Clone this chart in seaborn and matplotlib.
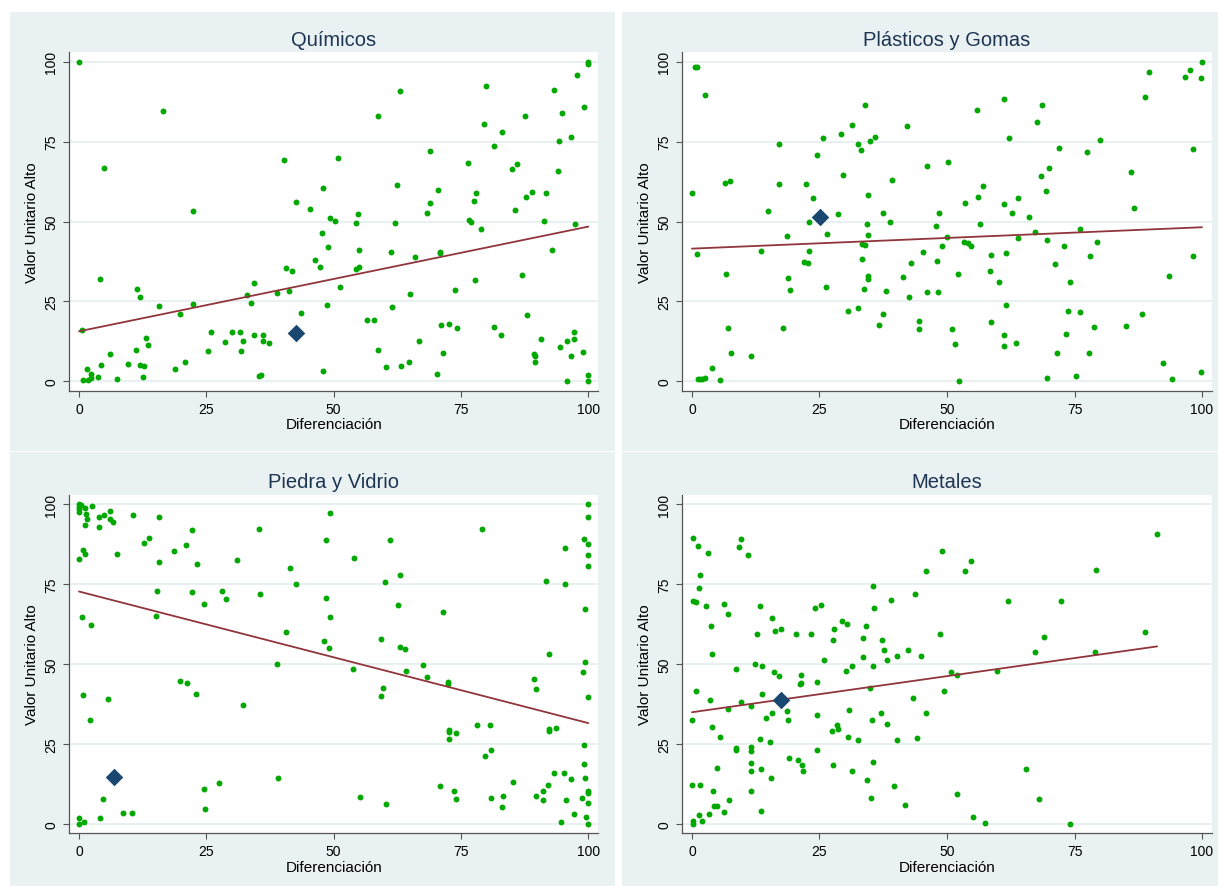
import matplotlib
matplotlib.use("Agg")
import numpy as np
import pandas as pd
import matplotlib.pyplot as plt
import seaborn as sns
from matplotlib.patches import Rectangle

# ---------------- data ----------------
tick_values = [0, 25, 50, 75, 100]
tick_labels = ["0", "25", "50", "75", "100"]
x_label = "Diferenciación"
y_label = "Valor Unitario Alto"
titles = ["Químicos", "Plásticos y Gomas", "Piedra y Vidrio", "Metales"]

quimicos_pts = [
    (0, 100), (16.4, 84.6), (5.0, 66.8), (40.3, 69.3), (48.0, 60.5), (42.6, 56.1), (45.4, 53.8),
    (22.4, 53.2), (49.3, 51.2), (47.7, 46.3), (48.9, 41.9), (46.4, 37.8), (47.4, 35.7), (40.6, 35.4),
    (41.8, 34.4), (4.2, 31.9), (34.4, 30.8), (11.3, 28.7), (12.0, 26.4), (33.0, 27.1), (38.8, 27.5),
    (41.3, 28.3), (33.8, 24.6), (15.8, 23.4), (22.3, 24.1), (48.7, 23.9), (43.6, 21.3), (19.8, 20.9),
    (0.6, 16.0), (25.9, 15.3), (30.1, 15.5), (31.6, 15.5), (34.3, 14.3), (36.1, 14.3), (13.1, 13.5),
    (28.6, 12.3), (32.2, 12.5), (36.1, 12.5), (37.4, 11.8), (13.6, 11.4), (6.1, 8.6), (11.1, 9.7),
    (25.4, 9.3), (31.8, 9.3), (20.8, 6.0), (4.3, 5.0), (9.6, 5.3), (11.9, 4.9), (12.7, 4.7),
    (1.6, 3.7), (18.9, 3.7), (47.9, 3.2), (2.4, 2.1), (2.4, 1.0), (3.7, 1.4), (7.5, 0.7), (12.6, 1.4),
    (0.7, 0.2), (1.8, 0.2), (35.4, 1.6), (35.8, 1.9),
    (100, 99.9), (100, 99.4), (97.7, 95.9), (63.0, 90.9), (80.0, 92.3), (93.2, 91.1), (99.2, 86.0),
    (58.8, 83.0), (87.5, 83.0), (79.6, 80.5), (94.9, 83.9), (83.0, 78.0), (81.4, 73.8), (94.3, 75.1),
    (96.6, 76.5), (50.8, 70.0), (68.9, 72.1), (76.4, 68.2), (85.0, 66.6), (86.0, 67.9), (94.1, 65.8),
    (62.4, 61.4), (70.5, 59.8), (78.0, 58.9), (77.6, 56.4), (87.8, 57.6), (89.0, 59.1), (91.6, 58.8),
    (68.9, 55.7), (68.4, 52.7), (54.8, 52.2), (50.3, 50.1), (54.4, 49.6), (62.1, 49.4), (76.6, 50.5),
    (77.0, 49.9), (78.9, 47.5), (85.6, 53.6), (91.2, 50.2), (97.3, 49.1), (55.0, 41.0), (61.2, 40.3),
    (70.8, 40.5), (70.8, 40.1), (66.0, 38.8), (54.4, 35.2), (55.0, 35.7), (51.3, 29.5), (65.0, 27.4),
    (73.9, 28.5), (77.7, 31.8), (86.9, 33.1), (92.9, 41.1), (61.4, 23.1), (56.6, 19.0), (57.9, 19.0),
    (71.0, 17.5), (72.6, 17.9), (74.3, 16.5), (81.5, 16.8), (82.9, 14.3), (88.0, 20.6), (90.8, 13.2),
    (66.8, 12.7), (58.7, 9.7), (71.4, 8.8), (89.3, 8.6), (89.6, 8.0), (89.5, 5.9), (94.4, 10.7),
    (95.9, 12.5), (97.2, 15.3), (97.2, 13.1), (96.6, 7.8), (98.9, 9.0), (60.2, 4.4), (63.3, 4.8),
    (64.8, 5.9), (70.2, 2.1), (95.9, 0), (100, 1.9), (100, 0),
]

plasticos_pts = [
    (0.5, 98.4), (1.0, 98.4), (2.6, 89.5), (34.0, 86.6), (31.3, 80.2), (42.1, 80.0), (29.3, 77.3),
    (25.6, 76.2), (35.9, 76.5), (32.6, 74.3), (34.9, 75.1), (17.0, 74.3), (33.2, 72.5), (24.5, 70.9),
    (46.0, 67.3), (29.6, 64.6), (6.5, 62.1), (7.4, 62.8), (17.0, 61.8), (22.4, 61.6), (39.2, 63.0),
    (0, 59.0), (23.8, 57.5), (34.6, 58.4), (14.9, 53.4), (28.7, 52.3), (37.5, 52.8), (38.8, 50.0),
    (48.5, 52.7), (23.0, 49.8), (34.3, 49.1), (47.9, 48.6), (34.6, 45.8), (26.4, 46.2), (18.7, 45.6),
    (33.4, 43.1), (34.0, 42.6), (49.0, 42.4), (1.0, 39.8), (13.6, 40.9), (23.0, 40.7), (21.9, 37.3),
    (22.8, 37.1), (33.4, 38.2), (45.2, 40.3), (48.0, 37.5), (43.0, 37.1), (6.7, 33.5), (18.9, 32.4),
    (34.5, 32.9), (34.6, 31.9), (41.4, 32.7), (19.2, 28.5), (26.3, 29.6), (33.7, 28.9), (38.1, 28.1),
    (42.6, 26.2), (46.0, 27.8), (48.2, 28.0), (30.5, 22.0), (32.6, 22.8), (37.5, 21.0), (36.6, 17.7),
    (44.6, 18.9), (44.6, 16.4), (7.0, 16.5), (17.8, 16.7), (7.7, 8.8), (11.6, 8.0), (3.9, 4.0),
    (1.2, 0.7), (1.6, 0.7), (2.0, 0.7), (2.5, 1.1), (5.4, 0.4),
    (100, 100), (97.7, 97.3), (96.7, 95.4), (99.8, 94.8), (89.7, 96.9), (88.9, 88.9), (61.2, 88.4),
    (55.9, 84.8), (68.6, 86.4), (67.7, 81.3), (62.2, 76.2), (71.9, 73.0), (80.0, 75.5), (77.5, 71.8),
    (98.3, 72.8), (50.2, 68.7), (70.0, 66.7), (68.5, 64.1), (86.0, 65.6), (57.1, 61.1), (56.1, 57.6),
    (69.5, 59.5), (53.5, 55.9), (61.1, 55.5), (63.9, 57.4), (62.8, 52.8), (66.0, 51.5), (86.6, 54.2),
    (56.5, 49.1), (50.0, 45.0), (67.3, 46.7), (76.1, 47.5), (64.0, 44.7), (69.6, 44.3), (53.4, 43.7),
    (54.1, 43.4), (54.8, 42.2), (73.0, 42.4), (79.5, 43.5), (58.6, 39.6), (61.5, 40.1), (78.1, 39.1),
    (98.2, 39.1), (71.2, 36.8), (58.4, 34.6), (52.1, 33.6), (60.2, 31.0), (74.2, 31.0), (93.5, 32.9),
    (61.5, 23.9), (58.7, 18.4), (51.0, 16.2), (51.6, 11.5), (61.1, 14.5), (61.2, 11.1), (63.5, 12.0),
    (73.8, 21.9), (76.1, 21.5), (78.9, 17.1), (73.4, 14.8), (85.1, 17.3), (88.3, 20.9), (71.5, 8.8),
    (77.9, 8.8), (92.4, 5.7), (94.1, 0.7), (99.9, 2.9), (52.4, 0), (69.7, 0.9), (75.3, 1.7),
]

piedra_pts = [
    (0, 100), (0.3, 99.8), (0, 99.1), (0, 97.6), (0.1, 98.6), (2.6, 99.4), (1.2, 98.7), (1.3, 97.0),
    (1.6, 95.5), (1.2, 93.4), (3.9, 96.0), (5.0, 96.8), (6.1, 97.9), (6.1, 95.4), (6.7, 94.3),
    (3.9, 92.8), (10.6, 96.6), (15.7, 95.9), (22.1, 92.0), (13.7, 89.6), (12.7, 87.8), (0.8, 85.7),
    (1.2, 84.3), (0, 82.9), (7.5, 84.3), (15.8, 82.0), (18.6, 85.3), (21.0, 87.3), (23.2, 81.3),
    (31.0, 82.7), (35.3, 92.4), (41.4, 79.9), (42.7, 75.1), (48.4, 88.7), (49.2, 97.3), (15.4, 72.8),
    (22.1, 72.4), (28.1, 72.7), (28.9, 70.3), (35.6, 72.0), (24.5, 68.8), (48.4, 70.8), (0.6, 64.8),
    (2.3, 62.2), (15.2, 65.0), (40.6, 60.0), (48.2, 57.1), (49.0, 54.9), (49.3, 64.8), (38.9, 50.0),
    (19.8, 44.7), (21.3, 44.1), (22.9, 40.6), (0.7, 40.3), (5.6, 38.9), (32.3, 37.3), (2.2, 32.4),
    (39.0, 14.3), (27.5, 12.7), (24.5, 10.9), (4.7, 7.8), (24.8, 4.6), (8.6, 3.2), (10.5, 3.4),
    (4.2, 1.8), (0, 1.7), (0, 0), (0.9, 0.4),
    (61.0, 88.9), (54.0, 83.1), (79.1, 92.2), (63.0, 77.8), (60.1, 75.6), (62.6, 68.6), (71.5, 66.4),
    (59.3, 57.7), (63.1, 55.3), (64.1, 54.6), (53.8, 48.4), (64.2, 47.9), (67.6, 49.8), (68.4, 45.8),
    (59.7, 42.6), (59.3, 40.1), (72.5, 44.5), (72.4, 43.6), (72.7, 29.2), (72.7, 28.8), (72.7, 26.6),
    (74.1, 28.3), (78.2, 31.0), (80.7, 30.8), (79.8, 21.3), (80.8, 23.2), (70.8, 11.8), (73.7, 10.1),
    (74.0, 7.6), (55.1, 8.4), (60.2, 6.1), (80.8, 8.1), (83.3, 8.6), (83.0, 5.3), (85.2, 13.2),
    (91.6, 76.0), (95.5, 86.4), (95.5, 74.9), (100, 100), (100, 95.9), (99.2, 89.1), (100, 87.6),
    (100, 84.1), (99.9, 80.6), (99.4, 67.2), (99.3, 50.7), (99.0, 47.6), (100, 39.8), (89.3, 45.3),
    (89.7, 42.1), (92.3, 53.0), (92.2, 29.1), (92.3, 29.5), (93.7, 29.9), (99.2, 24.7), (99.2, 18.7),
    (99.4, 14.3), (100, 10.1), (100, 9.7), (99.9, 6.5), (98.8, 8.0), (93.3, 16.0), (95.2, 16.0),
    (96.6, 14.1), (92.0, 12.0), (91.1, 10.3), (91.1, 7.4), (89.8, 8.8), (95.7, 7.4), (97.2, 3.1),
    (94.6, 0.4), (99.5, 2.1), (100, 0),
]

metales_pts = [
    (0.1, 89.4), (1.2, 86.8), (3.1, 84.8), (9.2, 86.5), (9.7, 89.1), (10.9, 84.1), (1.6, 78.0),
    (1.4, 73.7), (0.2, 69.8), (0.7, 69.3), (2.8, 68.3), (6.3, 68.7), (7.1, 65.6), (13.3, 68.2),
    (15.7, 64.5), (16.2, 60.4), (17.4, 60.9), (12.7, 59.5), (20.3, 59.5), (23.4, 59.3), (24.1, 67.6),
    (25.3, 68.6), (35.4, 74.3), (35.6, 67.6), (39.0, 70.0), (43.7, 71.8), (45.8, 79.1), (3.8, 61.8),
    (4.0, 53.0), (27.8, 60.9), (27.7, 57.6), (29.4, 63.5), (30.4, 62.5), (34.2, 61.8), (33.5, 58.1),
    (37.2, 57.4), (37.6, 54.3), (38.3, 51.1), (40.1, 52.5), (42.4, 54.4), (44.9, 52.5), (48.6, 59.5),
    (25.8, 51.4), (33.5, 52.1), (35.4, 49.3), (31.4, 49.5), (30.2, 47.9), (8.7, 48.5), (12.3, 50.0),
    (13.8, 49.3), (16.1, 47.4), (17.0, 46.3), (21.3, 46.5), (21.1, 43.7), (21.4, 43.9), (24.5, 44.3),
    (0.8, 41.4), (3.5, 38.6), (9.7, 38.2), (13.7, 40.7), (34.9, 42.6), (43.3, 39.2), (7.0, 35.9),
    (11.5, 36.8), (18.7, 35.2), (18.9, 32.5), (15.6, 34.7), (14.6, 33.1), (24.5, 34.0), (30.8, 35.6),
    (35.3, 32.4), (37.1, 34.7), (38.3, 31.1), (45.8, 34.7), (0, 32.6), (4.0, 30.3), (5.4, 27.2),
    (13.3, 26.4), (15.3, 25.5), (27.5, 29.1), (28.5, 31.0), (28.6, 29.7), (30.5, 27.2), (32.6, 26.2),
    (40.1, 26.2), (44.2, 26.8), (8.6, 23.7), (8.7, 23.1), (11.5, 22.9), (11.6, 23.9), (24.5, 23.1),
    (19.1, 20.6), (20.7, 20.0), (21.5, 18.5), (21.7, 16.6), (11.5, 18.9), (11.5, 16.4), (13.5, 17.0),
    (5.0, 17.5), (27.7, 18.5), (31.4, 16.6), (35.4, 19.2), (34.3, 13.7), (15.4, 14.3), (0, 12.0),
    (1.5, 12.2), (4.1, 10.1), (11.6, 10.1), (39.6, 11.8), (4.4, 5.7), (5.0, 5.7), (7.2, 7.4),
    (6.3, 3.7), (13.5, 4.1), (3.3, 3.0), (1.4, 2.6), (2.0, 1.0), (35.1, 8.0), (41.7, 5.9),
    (0.1, 0), (0.1, 0.7),
    (49.0, 85.4), (54.8, 82.3), (53.5, 79.2), (79.2, 79.4), (91.2, 90.8), (61.9, 69.6), (72.4, 69.8),
    (88.9, 60.1), (69.0, 58.5), (67.2, 53.7), (79.0, 53.7), (50.8, 47.6), (51.9, 46.6), (59.8, 47.7),
    (49.4, 41.6), (65.5, 17.1), (52.0, 9.4), (68.1, 7.8), (55.0, 2.0), (57.4, 0.2), (74.1, 0),
]

# highlighted observation (diamond) per panel
highlight_pts = [(42.6, 15.0), (25.1, 51.3), (6.8, 14.6), (17.5, 38.8)]
# fitted line (intercept, slope) per panel
fit_params = [(15.6, 0.328), (41.5, 0.067), (72.7, -0.412), (34.9, 0.226)]

all_pts = [quimicos_pts, plasticos_pts, piedra_pts, metales_pts]

# ---------------- style ----------------
BG = "#E9F1F3"
GRID = "#E6EFF1"
GREEN = "#00A800"
NAVY = "#1A476F"
MAROON = "#90353B"
TITLE_C = "#1E3552"
AX_C = "#555555"

sns.set_theme(style="white")
plt.rcParams["font.family"] = ["Liberation Sans", "DejaVu Sans"]

W, H = 1218, 887
fig = plt.figure(figsize=(W / 100, H / 100), dpi=100, facecolor="white")

def frac_rect(x0, y0, x1, y1):
    return [x0 / W, 1 - y1 / H, (x1 - x0) / W, (y1 - y0) / H]

bg_boxes = [(9.5, 13, 615, 451.7), (621.7, 13, 1218, 451.7),
            (9.5, 453.3, 615, 887), (621.7, 453.3, 1218, 887)]
ax_boxes = [(69.3, 53.3, 598, 391.7), (682.3, 53.3, 1211.7, 391.7),
            (69.3, 495.7, 598, 834.3), (682.3, 495.7, 1211.7, 834.3)]

for b in bg_boxes:
    r = frac_rect(*b)
    rect = Rectangle((r[0], r[1]), r[2], r[3], transform=fig.transFigure,
                     facecolor=BG, edgecolor="none", zorder=-10)
    fig.add_artist(rect)

for i in range(4):
    ax = fig.add_axes(frac_rect(*ax_boxes[i]))
    ax.set_zorder(1)
    ax.set_facecolor("white")
    df = pd.DataFrame(all_pts[i], columns=[x_label, y_label])
    for v in tick_values:
        ax.axhline(v, color=GRID, lw=1.3, zorder=1)
    sns.scatterplot(data=df, x=x_label, y=y_label, ax=ax, color=GREEN, s=18,
                    linewidth=0, zorder=3, legend=False)
    a, b = fit_params[i]
    xs = np.array([df[x_label].min(), df[x_label].max()])
    fit_df = pd.DataFrame({x_label: xs, y_label: a + b * xs})
    sns.lineplot(data=fit_df, x=x_label, y=y_label, ax=ax, color=MAROON, lw=1.3, zorder=4)
    hx, hy = highlight_pts[i]
    sns.scatterplot(x=[hx], y=[hy], ax=ax, marker="D", s=80, color=NAVY,
                    linewidth=0, zorder=5, legend=False)

    ax.set_xlim(-1.9, 101.9)
    ax.set_ylim(-3.0, 103.0)
    ax.set_xticks(tick_values)
    ax.set_xticklabels(tick_labels)
    ax.set_yticks(tick_values)
    ax.set_yticklabels(tick_labels, rotation=90, va="center")
    ax.grid(False)
    for s in ["top", "right"]:
        ax.spines[s].set_visible(False)
    for s in ["left", "bottom"]:
        ax.spines[s].set_color(AX_C)
        ax.spines[s].set_linewidth(0.9)
    ax.tick_params(axis="both", which="major", length=4.3, width=0.8, color=AX_C,
                   labelsize=10, labelcolor="black", pad=3.5, direction="out",
                   bottom=True, left=True)
    ax.set_xlabel(x_label, fontsize=11, color="black", labelpad=1)
    ax.set_ylabel(y_label, fontsize=11, color="black", labelpad=4)
    ax.set_title(titles[i], fontsize=14.5, color=TITLE_C, pad=5.5)

fig.savefig("out.png", dpi=100, facecolor="white")
